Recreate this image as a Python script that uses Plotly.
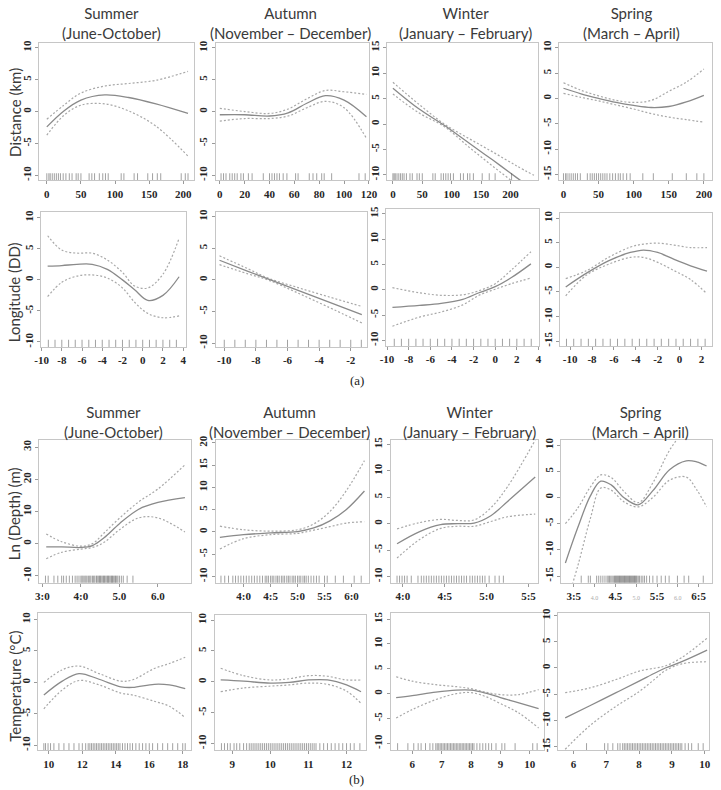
import plotly.graph_objects as go

W, H = 721, 790

# ---------------- (a) Distance ----------------
p1_x = [0, 25, 50, 85, 120, 160, 207]
p1_fit = [-2.4, 0.1, 1.8, 2.6, 2.2, 1.2, -0.3]
p1_up = [-1.2, 1.0, 2.9, 4.0, 4.4, 4.9, 6.3]
p1_lo = [-3.7, -0.6, 1.0, 1.2, 0.1, -2.3, -7.0]
p1_rug = [0, 3, 5, 8, 11, 14, 17, 20, 24, 28, 33, 37, 43, 46, 50, 62, 66, 70, 77, 82, 86, 90,
          109, 113, 128, 133, 148, 155, 162, 167, 197, 203, 207]

p2_x = [0, 20, 40, 55, 70, 85, 100, 118]
p2_fit = [-0.5, -0.5, -0.7, -0.2, 1.3, 2.5, 1.8, -0.8]
p2_up = [0.5, 0.0, -0.3, 0.4, 2.0, 3.3, 3.1, 2.7]
p2_lo = [-1.5, -1.1, -1.1, -0.7, 0.6, 1.6, 0.6, -4.2]
p2_rug = [1, 3, 5, 8, 10, 12, 14, 17, 19, 23, 26, 35, 40, 42, 44, 46, 48, 51, 54, 61, 63, 72, 75,
          78, 82, 84, 90, 112, 117]

p3_x = [0, 44, 88, 130, 170, 210, 240]
p3_fit = [7.05, 3.0, -0.3, -3.8, -7.1, -10.5, -13.0]
p3_up = [8.2, 3.9, -0.05, -2.9, -5.5, -8.2, -10.1]
p3_lo = [5.9, 2.2, -0.55, -4.6, -8.3, -11.9, -14.6]
p3_rug = [0, 2, 4, 7, 10, 13, 16, 19, 23, 29, 33, 41, 45, 50, 68, 72, 82, 86, 90, 94, 98, 103,
          115, 120, 127, 131, 137, 152, 164, 174, 202]

p4_x = [0, 25, 50, 75, 100, 125, 150, 175, 200]
p4_fit = [2.0, 0.9, 0.0, -0.8, -1.4, -1.8, -1.6, -0.7, 0.6]
p4_up = [3.1, 1.6, 0.5, -0.4, -0.8, -0.4, 1.4, 3.2, 5.8]
p4_lo = [1.0, 0.2, -0.5, -1.3, -2.1, -3.0, -3.7, -4.2, -4.7]
p4_rug = [0, 3, 5, 8, 11, 14, 17, 20, 24, 34, 38, 41, 44, 47, 50, 53, 56, 59, 62, 66, 70, 74, 78,
          81, 85, 90, 95, 113, 128, 155, 175, 190, 200]

# ---------------- (a) Longitude ----------------
p5_x = [-9.4, -8, -6.5, -5, -3.5, -2, -0.8, 0.5, 2, 3.6]
p5_fit = [2.2, 2.3, 2.5, 2.5, 1.7, 0.0, -1.6, -3.3, -2.5, 0.5]
p5_up = [7.1, 4.8, 4.3, 4.3, 3.2, 1.2, -1.0, -1.3, 0.9, 6.7]
p5_lo = [-2.7, -0.4, 0.6, 0.8, 0.3, -1.3, -3.6, -5.4, -6.1, -5.8]
p5_rug = [-9.33, -8.67, -8.0, -7.33, -6.67, -6.0, -5.33, -4.67, -4.0, -3.33, -2.67, -2.0,
          -1.33, -0.67, 0.0, 0.67, 1.33, 2.0, 2.67, 3.33]

p6_x = [-10.3, -8.5, -7.2, -5.5, -3.5, -1.3]
p6_fit = [3.1, 1.35, 0.1, -1.5, -3.4, -5.5]
p6_up = [3.8, 1.75, 0.25, -1.1, -2.6, -4.2]
p6_lo = [2.4, 0.95, -0.05, -1.9, -4.2, -6.8]
p6_rug = [-10.0, -9.33, -8.67, -8.0, -7.33, -6.67, -6.0, -5.33, -4.67, -4.0, -3.33, -2.67,
          -2.0, -1.33]

p7_x = [-9.5, -7, -5, -3, -1.5, 0, 1.5, 3.3]
p7_fit = [-3.5, -3.1, -2.7, -1.9, -0.6, 0.6, 2.4, 5.1]
p7_up = [0.4, -0.6, -1.1, -1.0, -0.2, 1.2, 3.9, 7.5]
p7_lo = [-7.2, -5.4, -4.4, -3.0, -1.1, 0.1, 1.2, 2.3]
p7_rug = [-9.33, -8.67, -8.0, -7.33, -6.67, -6.0, -5.33, -4.67, -4.0, -3.33, -2.67, -2.0,
          -1.33, -0.67, 0.0, 0.67, 1.33, 2.0, 2.67, 3.33]

p8_x = [-10.4, -8.5, -6.5, -4.5, -3.3, -2, -0.5, 1, 2.5]
p8_fit = [-4.0, -1.2, 1.3, 3.0, 3.5, 3.0, 1.6, 0.3, -0.8]
p8_up = [-2.3, -0.7, 2.0, 4.1, 4.7, 4.9, 4.5, 4.0, 4.0]
p8_lo = [-5.8, -1.6, 0.6, 2.0, 2.0, 1.0, -0.7, -2.5, -5.4]
p8_rug = [-10.33, -9.67, -9.0, -8.33, -7.67, -7.0, -6.33, -5.67, -5.0, -4.33, -3.67, -3.0,
          -2.33, -1.67, -1.0, -0.33, 0.33, 1.0, 1.67, 2.33]

# ---------------- (b) Ln(Depth) ----------------
p9_x = [3.1, 3.5, 4.0, 4.3, 4.6, 5.0, 5.5, 6.0, 6.7]
p9_fit = [-1.0, -1.0, -1.2, -0.6, 1.8, 6.2, 10.7, 12.8, 14.3]
p9_up = [3.0, 0.6, -0.8, 0.0, 3.3, 7.9, 13.0, 17.0, 24.5]
p9_lo = [-4.7, -2.7, -1.7, -1.2, 0.4, 4.3, 8.0, 8.0, 3.6]
p9_rug = [3.08, 3.15, 3.3, 3.4, 3.5, 3.55, 3.62, 3.7, 3.78, 3.85, 3.9, 3.95, 4.0, 4.03, 4.06,
          4.1, 4.13, 4.16, 4.2, 4.23, 4.26, 4.3, 4.33, 4.36, 4.4, 4.42, 4.45, 4.48, 4.5, 4.52,
          4.55, 4.58, 4.6, 4.62, 4.65, 4.68, 4.7, 4.72, 4.75, 4.78, 4.8, 4.82, 4.85, 4.88, 4.9,
          4.93, 4.96, 5.0, 5.05, 5.1, 5.2, 5.35]

p10_x = [3.56, 4.0, 4.5, 5.0, 5.3, 5.6, 5.9, 6.24]
p10_fit = [-1.2, -0.6, -0.2, 0.1, 0.9, 2.5, 5.0, 9.2]
p10_up = [1.3, 0.5, 0.2, 0.5, 1.8, 4.6, 9.2, 16.0]
p10_lo = [-3.8, -1.5, -0.6, -0.3, 0.4, 1.2, 2.0, 2.3]
p10_rug = [3.58, 3.65, 3.72, 3.8, 3.85, 3.9, 3.95, 4.0, 4.05, 4.1, 4.15, 4.2, 4.25, 4.3, 4.35,
           4.4, 4.43, 4.46, 4.5, 4.53, 4.56, 4.6, 4.63, 4.66, 4.7, 4.73, 4.76, 4.8, 4.83, 4.86,
           4.9, 4.93, 4.96, 5.0, 5.03, 5.06, 5.1, 5.13, 5.16, 5.2, 5.25, 5.3, 5.35, 5.4, 5.5,
           5.55, 5.7, 5.85, 6.05, 6.18]

p11_x = [3.93, 4.2, 4.45, 4.65, 4.85, 5.05, 5.25, 5.58]
p11_fit = [-3.8, -1.5, -0.2, 0.0, 0.1, 1.5, 4.2, 8.8]
p11_up = [-1.0, 0.2, 0.8, 0.6, 0.7, 3.0, 7.0, 15.8]
p11_lo = [-6.5, -3.0, -0.9, -0.5, -0.5, 0.4, 1.3, 1.8]
p11_rug = [3.93, 3.96, 3.99, 4.02, 4.05, 4.1, 4.18, 4.22, 4.25, 4.28, 4.31, 4.34, 4.37, 4.4,
           4.43, 4.46, 4.49, 4.52, 4.55, 4.58, 4.61, 4.64, 4.67, 4.7, 4.73, 4.76, 4.8, 4.83,
           4.86, 4.89, 4.92, 4.95, 4.98, 5.03, 5.1, 5.15, 5.2]

p12_x = [3.3, 3.6, 3.9, 4.15, 4.4, 4.7, 5.05, 5.4, 5.8, 6.2, 6.45, 6.69]
p12_fit = [-12.5, -5.7, 0.3, 3.1, 2.4, 0.0, -1.4, 1.3, 5.3, 7.0, 6.8, 6.0]
p12_up = [-5.0, -2.0, 2.0, 4.3, 3.8, 1.2, -1.0, 2.8, 9.0, 13.5, 16.5, 20.0]
p12_lo = [-21.0, -13.0, -4.0, 1.8, 1.4, -0.8, -1.8, 0.0, 3.3, 3.9, 1.5, -1.8]
p12_rug = [3.68, 3.85, 3.9, 4.05, 4.1, 4.15, 4.2, 4.25, 4.3, 4.33, 4.36, 4.39, 4.42, 4.45, 4.48,
           4.5, 4.52, 4.54, 4.56, 4.58, 4.6, 4.62, 4.64, 4.66, 4.68, 4.7, 4.72, 4.74, 4.76,
           4.78, 4.8, 4.82, 4.84, 4.86, 4.88, 4.9, 4.92, 4.94, 4.96, 4.98, 5.0, 5.02, 5.05,
           5.08, 5.12, 5.16, 5.2, 5.25, 5.32, 5.4, 5.5, 5.6, 5.7, 5.79, 5.99, 6.15, 6.26, 6.61]

# ---------------- (b) Temperature ----------------
p13_x = [9.7, 10.8, 11.8, 13.0, 14.3, 15.0, 16.3, 17.2, 18.15]
p13_fit = [-2.0, 0.2, 1.4, 0.5, -0.7, -0.8, -0.3, -0.4, -1.0]
p13_up = [0.0, 2.0, 2.6, 1.4, 0.2, 0.4, 2.2, 3.0, 4.0]
p13_lo = [-4.2, -1.2, 0.3, -0.4, -1.7, -2.0, -3.0, -3.8, -5.6]
p13_rug = [9.7, 9.8, 9.95, 10.1, 10.3, 10.6, 10.9, 11.2, 11.5, 11.8, 12.0, 12.2, 12.35, 12.45,
           12.55, 12.65, 12.75, 12.85, 12.95, 13.05, 13.15, 13.25, 13.35, 13.45, 13.55, 13.65,
           13.75, 13.85, 13.95, 14.05, 14.15, 14.25, 14.4, 14.55, 14.7, 14.85, 15.0, 15.2,
           15.4, 15.6, 15.8, 16.0, 16.2, 16.5, 16.8, 17.1, 17.4, 17.7, 18.0, 18.15]

p14_x = [8.7, 9.3, 10.0, 10.5, 11.0, 11.5, 12.0, 12.38]
p14_fit = [0.3, 0.1, -0.2, -0.1, 0.3, 0.3, -0.5, -1.6]
p14_up = [2.2, 1.0, 0.3, 0.5, 1.0, 0.9, 0.3, 0.3]
p14_lo = [-1.6, -1.0, -0.7, -0.5, -0.2, -0.4, -1.5, -3.5]
p14_rug = [8.72, 8.8, 8.88, 8.95, 9.05, 9.12, 9.2, 9.3, 9.38, 9.45, 9.5, 9.55, 9.6, 9.65, 9.7,
           9.75, 9.8, 9.85, 9.9, 9.95, 10.0, 10.05, 10.1, 10.15, 10.2, 10.25, 10.3, 10.35, 10.4,
           10.45, 10.5, 10.55, 10.6, 10.65, 10.7, 10.75, 10.8, 10.85, 10.9, 10.95, 11.0, 11.05,
           11.1, 11.15, 11.2, 11.3, 11.4, 11.5, 11.6, 11.7, 11.8, 11.9, 12.0, 12.1, 12.2, 12.35]

p15_x = [5.45, 6.0, 6.8, 7.5, 8.0, 8.5, 9.0, 9.6, 10.3]
p15_fit = [-0.8, -0.4, 0.3, 0.7, 0.7, 0.1, -0.8, -1.8, -3.0]
p15_up = [3.4, 2.5, 1.8, 1.4, 1.0, 0.3, -0.2, -0.2, 0.8]
p15_lo = [-4.9, -3.2, -1.2, 0.0, 0.2, -0.6, -2.0, -3.8, -6.9]
p15_rug = [5.5, 5.85, 6.05, 6.2, 6.3, 6.45, 6.6, 6.7, 6.8, 6.85, 6.9, 6.95, 7.0, 7.05, 7.1, 7.15,
           7.2, 7.25, 7.3, 7.35, 7.4, 7.45, 7.5, 7.55, 7.6, 7.65, 7.7, 7.75, 7.8, 7.85, 7.9,
           7.95, 8.0, 8.05, 8.1, 8.2, 8.3, 8.4, 8.5, 8.6, 8.7, 8.85, 9.05, 9.15, 9.5, 10.1, 10.25]

p16_x = [5.75, 6.5, 7.3, 8.0, 8.5, 8.8, 9.3, 10.07]
p16_fit = [-9.5, -7.2, -4.7, -2.5, -0.9, 0.0, 1.2, 3.4]
p16_up = [-4.7, -3.8, -2.2, -0.6, 0.0, 0.4, 2.0, 5.7]
p16_lo = [-15.5, -11.0, -7.3, -4.5, -2.0, -0.5, 0.8, 1.2]
p16_rug = [6.4, 6.95, 7.05, 7.2, 7.35, 7.42, 7.5, 7.55, 7.6, 7.65, 7.7, 7.75, 7.8, 7.85, 7.9,
           7.95, 8.0, 8.05, 8.1, 8.15, 8.2, 8.25, 8.3, 8.35, 8.4, 8.45, 8.5, 8.55, 8.6, 8.65, 8.7,
           8.75, 8.8, 8.85, 8.9, 8.95, 9.0, 9.05, 9.1, 9.15, 9.2, 9.25, 9.3, 9.4, 9.5, 9.6, 9.8,
           9.95]

# ---------------- tick labels ----------------
y_ticks_10 = [-10, -5, 0, 5, 10]
y_ticks_15 = [-10, -5, 0, 5, 10, 15]
y_ticks_m15 = [-15, -10, -5, 0, 5, 10]
y_ticks_depth_su = [-10, 0, 10, 20, 30]
y_ticks_depth_au = [-10, -5, 0, 5, 10, 15, 20]

x_ticks_p9 = [3.0, 4.0, 5.0, 6.0]
x_text_p9 = ["3:0", "4:0", "5.0", "6.0"]
x_ticks_p10 = [4.0, 4.5, 5.0, 5.5, 6.0]
x_text_p10 = ["4:0", "4:5", "5:0", "5:5", "6:0"]
x_ticks_p11 = [4.0, 4.5, 5.0, 5.5]
x_text_p11 = ["4:0", "4:5", "5:0", "5:5"]
x_ticks_p12 = [3.5, 4.0, 4.5, 5.0, 5.5, 6.0, 6.5]
x_text_p12 = ["3:5", "4.0", "4.5", "5.0", "5:5", "6.0", "6:5"]

season_titles = ["Summer<br>(June-October)", "Autumn<br>(November \u2013 December)",
                 "Winter<br>(January \u2013 February)", "Spring<br>(March \u2013 April)"]
row_titles = ["Distance (km)", "Longitude (DD)", "Ln (Depth) (m)", "Temperature (\u00b0C)"]

small = lambda s: '<span style="font-size:6px;color:#aaaaaa;font-weight:normal">%s</span>' % s
x_text_p12_fmt = [t if t in ("3:5", "4.5", "5:5", "6:5") else small(t) for t in x_text_p12]

# panel configs: (data, box in px [left,right,top,bottom], x range, y range, x ticks, x text, y ticks)
panels = [
    (p1_x, p1_fit, p1_up, p1_lo, p1_rug, (33, 191, 38, 177), [-11, 215.8], [-10.8, 10.8], [0, 50, 100, 150, 200], None, y_ticks_10),
    (p2_x, p2_fit, p2_up, p2_lo, p2_rug, (213, 370, 38, 177), [-3.4, 120.3], [-10.8, 10.8], [0, 20, 40, 60, 80, 100, 120], None, y_ticks_10),
    (p3_x, p3_fit, p3_up, p3_lo, p3_rug, (388, 542, 38, 177), [-10.2, 246.5], [-11.1, 16.0], [0, 50, 100, 150, 200], None, y_ticks_15),
    (p4_x, p4_fit, p4_up, p4_lo, p4_rug, (564, 720, 38, 177), [-6.0, 211.6], [-16.2, 11.0], [0, 50, 100, 150, 200], None, y_ticks_m15),
    (p5_x, p5_fit, p5_up, p5_lo, p5_rug, (35, 183, 209, 345), [-10.03, 4.3], [-10.8, 10.9], [-10, -8, -6, -4, -2, 0, 2, 4], None, y_ticks_10),
    (p6_x, p6_fit, p6_up, p6_lo, p6_rug, (213, 368, 209, 345), [-10.55, -0.95], [-10.6, 10.7], [-10, -8, -6, -4, -2], None, y_ticks_10),
    (p7_x, p7_fit, p7_up, p7_lo, p7_rug, (387, 543, 206, 344), [-10.1, 4.02], [-11.1, 15.9], [-10, -8, -6, -4, -2, 0, 2, 4], None, y_ticks_15),
    (p8_x, p8_fit, p8_up, p8_lo, p8_rug, (565, 720, 210, 344), [-10.9, 2.96], [-16.0, 11.0], [-10, -8, -6, -4, -2, 0, 2], None, y_ticks_m15),
    (p9_x, p9_fit, p9_up, p9_lo, p9_rug, (33, 188, 439, 583), [2.92, 6.86], [-12.2, 32.2], x_ticks_p9, x_text_p9, y_ticks_depth_su),
    (p10_x, p10_fit, p10_up, p10_lo, p10_rug, (213, 370, 439, 583), [3.48, 6.33], [-11.4, 20.6], x_ticks_p10, x_text_p10, y_ticks_depth_au),
    (p11_x, p11_fit, p11_up, p11_lo, p11_rug, (392, 542, 439, 583), [3.856, 5.61], [-11.2, 15.8], x_ticks_p11, x_text_p11, y_ticks_15),
    (p12_x, p12_fit, p12_up, p12_lo, p12_rug, (566, 720, 439, 583), [3.2, 6.82], [-16.3, 10.95], x_ticks_p12, x_text_p12_fmt, y_ticks_m15),
    (p13_x, p13_fit, p13_up, p13_lo, p13_rug, (32, 188, 613, 752), [9.37, 18.5], [-10.8, 11.1], [10, 12, 14, 16, 18], None, y_ticks_10),
    (p14_x, p14_fit, p14_up, p14_lo, p14_rug, (212, 367, 615, 752), [8.54, 12.52], [-11.1, 10.9], [9, 10, 11, 12], None, y_ticks_10),
    (p15_x, p15_fit, p15_up, p15_lo, p15_rug, (392, 548, 613, 752), [5.27, 10.47], [-11.4, 16.3], [6, 7, 8, 9, 10], None, y_ticks_15),
    (p16_x, p16_fit, p16_up, p16_lo, p16_rug, (563, 717, 613, 752), [5.54, 10.13], [-15.7, 10.57], [6, 7, 8, 9, 10], None, y_ticks_m15),
]

FIT_COLOR = "#8a8a8a"
CI_COLOR = "#a8a8a8"
RUG_COLOR = "rgba(70,70,70,0.5)"
TICKFONT = dict(family="Liberation Serif", size=11, color="#262626", weight="bold")

fig = go.Figure()
layout = dict(
    width=W, height=H, margin=dict(l=0, r=0, t=0, b=0),
    paper_bgcolor="white", plot_bgcolor="white", showlegend=False,
)

for i, (x, fit, up, lo, rug, box, xr, yr, xt, xtt, yt) in enumerate(panels, start=1):
    xa = "x" if i == 1 else "x%d" % i
    ya = "y" if i == 1 else "y%d" % i
    left, right, top, bottom = box
    for yy, col, dash, wd in ((up, CI_COLOR, "2px,2px", 1.2), (lo, CI_COLOR, "2px,2px", 1.2),
                              (fit, FIT_COLOR, "solid", 1.3)):
        fig.add_trace(go.Scatter(x=x, y=yy, mode="lines", xaxis=xa, yaxis=ya,
                                 line=dict(color=col, width=wd, dash=dash, shape="spline", smoothing=1.0),
                                 hoverinfo="skip"))
    rug_y = yr[0] + (yr[1] - yr[0]) * 3.0 / (bottom - top)
    fig.add_trace(go.Scatter(x=rug, y=[rug_y] * len(rug), mode="markers", xaxis=xa, yaxis=ya,
                             marker=dict(symbol="line-ns", size=6,
                                         line=dict(color=RUG_COLOR, width=1)),
                             hoverinfo="skip"))
    xkey = "xaxis" if i == 1 else "xaxis%d" % i
    ykey = "yaxis" if i == 1 else "yaxis%d" % i
    xd = dict(domain=[left / W, right / W], range=xr, anchor=ya,
              showgrid=False, zeroline=False, showline=True, mirror=True,
              linecolor="#c6c6c6", linewidth=1, ticks="outside", ticklen=3,
              tickcolor="#9a9a9a", tickfont=TICKFONT, tickvals=xt)
    if xtt is not None:
        xd["ticktext"] = xtt
    else:
        xd["ticktext"] = [str(v) for v in xt]
    yd = dict(domain=[1 - bottom / H, 1 - top / H], range=yr, anchor=xa,
              showgrid=False, zeroline=False, showline=True, mirror=True,
              linecolor="#c6c6c6", linewidth=1, ticks="outside", ticklen=3,
              tickcolor="#9a9a9a", tickfont=TICKFONT, tickvals=yt,
              ticktext=[str(v) for v in yt], tickangle=-90)
    layout[xkey] = xd
    layout[ykey] = yd

annotations = []
title_pos_rows = [((107, 18.5), (290, 18.5), (468, 18.5), (638, 18.5)),
                  ((109, 420.5), (289, 420.5), (472, 420.5), (647, 420.5))]
for row in title_pos_rows:
    for (px, py), txt in zip(row, season_titles):
        annotations.append(dict(text=txt, x=px / W, y=1 - py / H, xref="paper", yref="paper",
                                showarrow=False, xanchor="center", yanchor="middle",
                                font=dict(family="Lato", size=15, color="#3a3a3a")))

row_title_y = [108, 290, 513, 687]
for txt, py in zip(row_titles, row_title_y):
    annotations.append(dict(text=txt, x=8 / W, y=1 - py / H, xref="paper", yref="paper",
                            showarrow=False, textangle=-90, xanchor="center", yanchor="middle",
                            font=dict(family="Lato", size=15, color="#3a3a3a")))

for txt, py in (("(a)", 379), ("(b)", 781)):
    annotations.append(dict(text=txt, x=357 / W, y=1 - py / H, xref="paper", yref="paper",
                            showarrow=False, xanchor="center", yanchor="middle",
                            font=dict(family="Liberation Serif", size=13, color="#222222")))

layout["annotations"] = annotations
fig.update_layout(**layout)
fig.write_html("out.html")
